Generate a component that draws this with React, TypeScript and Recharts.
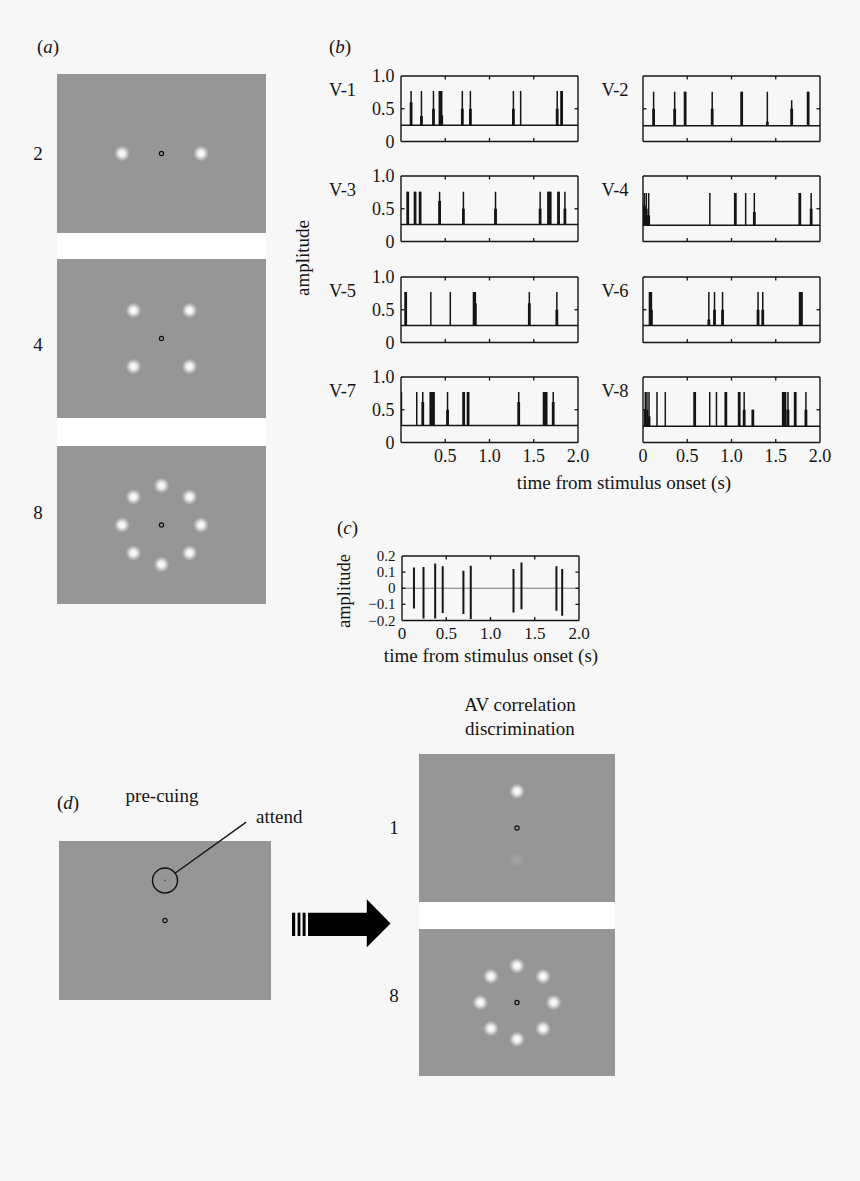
import React from 'react';
import { LineChart, Line, XAxis, YAxis, ScatterChart, Scatter, ReferenceLine, ReferenceArea } from 'recharts';

const SERIF = "'Liberation Serif', 'Times New Roman', Times, serif";
const INK = '#151515';
const PAGE = '#f7f7f7';
const STIM = '#969696';

// ---------- (b) spike trains: [time (s), peak amplitude, height of heavy lower part]
const unitLabels = ['V-1', 'V-2', 'V-3', 'V-4', 'V-5', 'V-6', 'V-7', 'V-8'];
const unitBaselines = [0.25, 0.24, 0.26, 0.25, 0.26, 0.26, 0.26, 0.25];
const V1 = [[0.114, 0.77, 0.6], [0.231, 0.77, 0.39], [0.367, 0.77, 0.5], [0.44, 0.77, 0.77], [0.46, 0.77, 0.4], [0.693, 0.77, 0.5], [0.784, 0.77, 0.5], [1.27, 0.77, 0.5], [1.352, 0.77, 0], [1.765, 0.77, 0.5], [1.815, 0.77, 0.77]];
const V2 = [[0.12, 0.76, 0.5], [0.358, 0.76, 0.5], [0.476, 0.76, 0.76], [0.782, 0.76, 0.5], [1.115, 0.76, 0.76], [1.405, 0.76, 0.3], [1.68, 0.63, 0.5], [1.866, 0.76, 0.76]];
const V3 = [[0.076, 0.76, 0.76], [0.159, 0.76, 0.76], [0.216, 0.76, 0.76], [0.436, 0.76, 0.62], [0.705, 0.76, 0.5], [1.068, 0.76, 0.5], [1.572, 0.76, 0.5], [1.667, 0.76, 0.76], [1.686, 0.76, 0.76], [1.78, 0.76, 0.76], [1.852, 0.76, 0.5]];
const V4 = [[0.015, 0.74, 0.55], [0.025, 0.5, 0.5], [0.037, 0.74, 0.5], [0.064, 0.74, 0.4], [0.755, 0.74, 0], [1.043, 0.74, 0.74], [1.16, 0.74, 0], [1.258, 0.74, 0.45], [1.772, 0.74, 0.74], [1.9, 0.74, 0.5]];
const V5 = [[0.053, 0.77, 0.77], [0.337, 0.77, 0], [0.557, 0.77, 0], [0.826, 0.77, 0.77], [0.84, 0.77, 0.6], [1.45, 0.77, 0.6], [1.761, 0.77, 0.5]];
const V6 = [[0.08, 0.77, 0.77], [0.095, 0.77, 0.5], [0.744, 0.77, 0.35], [0.808, 0.77, 0.5], [0.899, 0.77, 0.5], [1.3, 0.77, 0.5], [1.353, 0.77, 0.5], [1.776, 0.77, 0.77], [1.79, 0.77, 0.77]];
const V7 = [[0.005, 0.77, 0], [0.178, 0.77, 0], [0.246, 0.77, 0.62], [0.337, 0.77, 0.77], [0.352, 0.77, 0.77], [0.367, 0.77, 0.77], [0.526, 0.77, 0.5], [0.708, 0.77, 0.77], [0.758, 0.77, 0.77], [1.33, 0.77, 0.62], [1.617, 0.77, 0.77], [1.64, 0.77, 0.77], [1.72, 0.77, 0.62]];
const V8 = [[0.026, 0.77, 0.5], [0.045, 0.77, 0.5], [0.068, 0.77, 0.4], [0.158, 0.77, 0], [0.252, 0.77, 0], [0.584, 0.77, 0.77], [0.754, 0.77, 0], [0.83, 0.77, 0], [0.936, 0.77, 0.77], [1.087, 0.77, 0.77], [1.143, 0.77, 0.5], [1.241, 0.5, 0.5], [1.585, 0.77, 0.77], [1.604, 0.77, 0.77], [1.638, 0.77, 0.5], [1.72, 0.77, 0.77], [1.841, 0.77, 0.5]];
const units = [V1, V2, V3, V4, V5, V6, V7, V8];

const timeTicks = [0, 0.5, 1, 1.5, 2];
const timeTickLabels = ['0', '0.5', '1.0', '1.5', '2.0'];
const timeTickLabelsNoZero = ['', '0.5', '1.0', '1.5', '2.0'];
const ampTicks = [0, 0.5, 1];
const ampTickLabels = ['0', '0.5', '1.0'];

// ---------- (c) correlation trace: [time (s), top, bottom]
const corrTicks = [-0.2, -0.1, 0, 0.1, 0.2];
const corrTickLabels = ['\u22120.2', '\u22120.1', '0', '0.1', '0.2'];
const corrSpikes = [[0.135, 0.129, -0.126], [0.243, 0.132, -0.188], [0.375, 0.153, -0.188], [0.46, 0.137, -0.153], [0.694, 0.109, -0.16], [0.777, 0.14, -0.19], [1.26, 0.12, -0.15], [1.35, 0.16, -0.13], [1.745, 0.137, -0.14], [1.81, 0.12, -0.17]];

// ---------- stimulus displays (unit = stimulus ring radius)
const setSize2 = [[-1, 0], [1, 0]];
const setSize4 = [[-0.71, 0.71], [0.71, 0.71], [-0.71, -0.71], [0.71, -0.71]];
const setSize8 = [[0, 1], [-0.71, 0.71], [0.71, 0.71], [-1, 0], [1, 0], [-0.71, -0.71], [0.71, -0.71], [0, -1]];
const setSize1 = [[0, 1]];
const setSize1Faint = [[0, -0.87]];
const cueLocation = [[0, 1]];
const fixation = [[0, 0]];
const leaderLine = [[0.25, 1.18], [2.03, 2.46]];

const toXY = (a: number[][]) => a.map(([x, y]) => ({ x, y }));

// ---------- layout
const B_COL_LEFT = [401, 643];
const B_ROW_TOP = [75.5, 176, 277, 377];
const B_W = 177;
const B_H = 65.5;
const AXIS = { stroke: INK, strokeWidth: 1.4 };

type Side = 'bottom' | 'top' | 'left' | 'right';
const tickRenderer = (side: Side, ticks: number[], labels: string[] | null, fontSize = 18) => (props: any) => {
  const { x, y, payload } = props;
  const v = payload ? payload.value : 0;
  const i = ticks.findIndex((t) => Math.abs(t - v) < 1e-9);
  const edge = i === 0 || i === ticks.length - 1;
  const L = 3.5;
  let mark = null;
  if (!edge) {
    const d = side === 'bottom' ? [0, -L] : side === 'top' ? [0, L] : side === 'left' ? [L, 0] : [-L, 0];
    mark = <line x1={x} y1={y} x2={x + d[0]} y2={y + d[1]} stroke={INK} strokeWidth={1.3} />;
  }
  let label = null;
  const s = labels && i >= 0 ? labels[i] : '';
  if (s) {
    if (side === 'bottom') {
      label = (
        <text x={x} y={y + 7 + fontSize * 0.7} textAnchor="middle" fontFamily={SERIF} fontSize={fontSize} fill={INK}>
          {s}
        </text>
      );
    } else if (side === 'left') {
      label = (
        <text x={x - 6.5} y={y + fontSize / 3} textAnchor="end" fontFamily={SERIF} fontSize={fontSize} fill={INK}>
          {s}
        </text>
      );
    }
  }
  return <g>{mark}{label}</g>;
};

const axisCommon = { tickSize: 0, tickMargin: 0, tickLine: false, interval: 0 as const, axisLine: AXIS, allowDataOverflow: true };

type Pt = { t: number; v: number | null };

function BoxedChart({ left, top, width, height, yDomain, yTicks, xLabels, yLabels, xFont = 18, yFont = 18, children, boxData }: any) {
  const ML = 50, MT = 14, MR = 18, MB = 28, EDGE = 1;
  return (
    <div style={{ position: 'absolute', left: left - ML, top: top - MT - EDGE }}>
      <LineChart width={ML + width + EDGE + MR} height={MT + EDGE + height + MB} margin={{ top: MT, right: MR, bottom: 0, left: 0 }}>
        <XAxis xAxisId="b" dataKey="t" type="number" domain={[0, 2]} ticks={timeTicks} height={MB} tick={tickRenderer('bottom', timeTicks, xLabels, xFont)} {...axisCommon} />
        <XAxis xAxisId="t" orientation="top" dataKey="t" type="number" domain={[0, 2]} ticks={timeTicks} height={EDGE} tick={tickRenderer('top', timeTicks, null)} {...axisCommon} />
        <YAxis yAxisId="l" type="number" domain={yDomain} ticks={yTicks} width={ML} tick={tickRenderer('left', yTicks, yLabels, yFont)} {...axisCommon} />
        <YAxis yAxisId="r" orientation="right" type="number" domain={yDomain} ticks={yTicks} width={EDGE} tick={tickRenderer('right', yTicks, null)} {...axisCommon} />
        <Line xAxisId="t" yAxisId="r" data={boxData} dataKey="v" stroke="none" strokeWidth={0} dot={false} activeDot={false} isAnimationActive={false} />
        {children}
      </LineChart>
    </div>
  );
}

function SpikeTrain({ index }: { index: number }) {
  const col = index % 2;
  const row = Math.floor(index / 2);
  const spikes = units[index];
  const base = unitBaselines[index];
  const trace: Pt[] = [{ t: 0, v: base }];
  spikes.forEach(([t, peak]) => {
    trace.push({ t, v: base }, { t, v: peak }, { t, v: base });
  });
  trace.push({ t: 2, v: base });
  const heavy: Pt[] = [];
  spikes.forEach(([t, , thick]) => {
    if (thick > 0) heavy.push({ t, v: base }, { t, v: thick }, { t, v: null });
  });
  const xLabels = row === 3 ? (col === 0 ? timeTickLabelsNoZero : timeTickLabels) : null;
  const yLabels = col === 0 ? ampTickLabels : null;
  return (
    <BoxedChart left={B_COL_LEFT[col]} top={B_ROW_TOP[row]} width={B_W} height={B_H} yDomain={[0, 1]} yTicks={ampTicks} xLabels={xLabels} yLabels={yLabels} boxData={trace}>
      <Line xAxisId="b" yAxisId="l" data={trace} dataKey="v" type="linear" stroke={INK} strokeWidth={1.5} dot={false} activeDot={false} isAnimationActive={false} />
      <Line xAxisId="b" yAxisId="l" data={heavy} dataKey="v" type="linear" stroke={INK} strokeWidth={2.8} dot={false} activeDot={false} connectNulls={false} isAnimationActive={false} />
    </BoxedChart>
  );
}

function CorrPanel() {
  const segs: Pt[] = [];
  corrSpikes.forEach(([t, top, bot]) => {
    segs.push({ t, v: top }, { t, v: bot }, { t, v: null });
  });
  return (
    <BoxedChart left={402} top={556} width={177} height={64.5} yDomain={[-0.2, 0.2]} yTicks={corrTicks} xLabels={timeTickLabels} yLabels={corrTickLabels} xFont={17} yFont={15} boxData={segs}>
      <ReferenceLine xAxisId="b" yAxisId="l" y={0} stroke="#7a7a7a" strokeWidth={1.2} />
      <Line xAxisId="b" yAxisId="l" data={segs} dataKey="v" type="linear" stroke={INK} strokeWidth={2} dot={false} activeDot={false} connectNulls={false} isAnimationActive={false} />
    </BoxedChart>
  );
}

const blobShape = (opacity: number) => (p: any) => (
  <circle cx={p.cx} cy={p.cy} r={8} fill="url(#stimBlob)" opacity={opacity} />
);
const fixShape = (p: any) => <circle cx={p.cx} cy={p.cy} r={2.1} fill="none" stroke="#111" strokeWidth={1.2} />;
const cueShape = (p: any) => (
  <g>
    <circle cx={p.cx} cy={p.cy} r={12.5} fill="none" stroke="#111" strokeWidth={1.4} />
    <circle cx={p.cx} cy={p.cy} r={0.9} fill="#555" />
  </g>
);

function StimPanel({ left, top, w, h, ring, items, faint }: { left: number; top: number; w: number; h: number; ring: number; items: number[][]; faint?: number[][] }) {
  const xr = w / 2 / ring;
  const yr = h / 2 / ring;
  return (
    <div style={{ position: 'absolute', left, top, width: w, height: h, background: STIM }}>
      <ScatterChart width={w} height={h} margin={{ top: 0, right: 0, bottom: 0, left: 0 }}>
        <XAxis type="number" dataKey="x" domain={[-xr, xr]} hide allowDataOverflow />
        <YAxis type="number" dataKey="y" domain={[-yr, yr]} hide allowDataOverflow />
        <Scatter data={toXY(items)} shape={blobShape(1)} isAnimationActive={false} />
        {faint ? <Scatter data={toXY(faint)} shape={blobShape(0.12)} isAnimationActive={false} /> : null}
        <Scatter data={toXY(fixation)} shape={fixShape} isAnimationActive={false} />
      </ScatterChart>
    </div>
  );
}

function CuePanel() {
  // chart spans the gray panel plus the area above it holding the leader line
  const left = 59, panelTop = 841, w = 212, h = 159, chartTop = 815, ring = 40;
  const cy = panelTop + h / 2;
  const xr = w / 2 / ring;
  const yTop = (cy - chartTop) / ring;
  const yBot = h / 2 / ring;
  return (
    <div style={{ position: 'absolute', left, top: chartTop }}>
      <ScatterChart width={w} height={panelTop + h - chartTop} margin={{ top: 0, right: 0, bottom: 0, left: 0 }}>
        <XAxis type="number" dataKey="x" domain={[-xr, xr]} hide allowDataOverflow />
        <YAxis type="number" dataKey="y" domain={[-yBot, yTop]} hide allowDataOverflow />
        <ReferenceArea x1={-xr} x2={xr} y1={-yBot} y2={yBot} fill={STIM} fillOpacity={1} stroke="none" ifOverflow="extendDomain" />
        <ReferenceLine segment={leaderLine.map(([x, y]) => ({ x, y }))} stroke="#111" strokeWidth={1.3} ifOverflow="visible" />
        <Scatter data={toXY(cueLocation)} shape={cueShape} isAnimationActive={false} />
        <Scatter data={toXY(fixation)} shape={fixShape} isAnimationActive={false} />
      </ScatterChart>
    </div>
  );
}

const T = (props: any) => <text fontFamily={SERIF} fill={INK} {...props} />;

export default function App() {
  return (
    <div style={{ position: 'absolute', left: 0, top: 0, width: 860, height: 1181, background: PAGE, overflow: 'hidden' }}>
      <svg width={0} height={0} style={{ position: 'absolute' }}>
        <defs>
          <radialGradient id="stimBlob">
            <stop offset="0%" stopColor="#ffffff" stopOpacity={1} />
            <stop offset="35%" stopColor="#f6f6f6" stopOpacity={0.95} />
            <stop offset="70%" stopColor="#ffffff" stopOpacity={0.35} />
            <stop offset="100%" stopColor="#ffffff" stopOpacity={0} />
          </radialGradient>
        </defs>
      </svg>

      {/* (a) */}
      <div style={{ position: 'absolute', left: 57, top: 233, width: 209, height: 26, background: '#fff' }} />
      <div style={{ position: 'absolute', left: 57, top: 418, width: 209, height: 28, background: '#fff' }} />
      <StimPanel left={57} top={74} w={209} h={159} ring={39.5} items={setSize2} />
      <StimPanel left={57} top={259} w={209} h={159} ring={39.5} items={setSize4} />
      <StimPanel left={57} top={446} w={209} h={158} ring={39.5} items={setSize8} />

      {/* (b) */}
      {units.map((_, i) => (
        <SpikeTrain key={i} index={i} />
      ))}

      {/* (c) */}
      <CorrPanel />

      {/* (d) */}
      <CuePanel />
      <svg width={120} height={60} style={{ position: 'absolute', left: 285, top: 894 }} viewBox="285 894 120 60">
        <rect x={292} y={912.7} width={3.2} height={23.3} fill="#000" />
        <rect x={297.6} y={912.7} width={2.8} height={23.3} fill="#000" />
        <rect x={302.6} y={912.7} width={3} height={23.3} fill="#000" />
        <polygon points="308,912.7 366.8,912.7 366.8,899.3 390.5,923.6 366.8,947.3 366.8,936 308,936" fill="#000" />
      </svg>
      <div style={{ position: 'absolute', left: 419, top: 902, width: 196, height: 27, background: '#fff' }} />
      <StimPanel left={419} top={754} w={196} h={148} ring={36.7} items={setSize1} faint={setSize1Faint} />
      <StimPanel left={419} top={929} w={196} h={147} ring={36.7} items={setSize8} />

      {/* text layer */}
      <svg width={860} height={1181} style={{ position: 'absolute', left: 0, top: 0, pointerEvents: 'none' }}>
        <T x={37} y={53} fontSize={19}>(<tspan fontStyle="italic">a</tspan>)</T>
        <T x={38} y={159.5} fontSize={19} textAnchor="middle">2</T>
        <T x={38} y={351} fontSize={19} textAnchor="middle">4</T>
        <T x={38} y={518.5} fontSize={19} textAnchor="middle">8</T>

        <T x={329} y={53} fontSize={19}>(<tspan fontStyle="italic">b</tspan>)</T>
        {unitLabels.map((s, i) => (
          <T key={s} x={i % 2 === 0 ? 329 : 601.5} y={B_ROW_TOP[Math.floor(i / 2)] + 20} fontSize={18.5}>{s}</T>
        ))}
        <T x={309} y={258} fontSize={19} textAnchor="middle" transform="rotate(-90 309 258)">amplitude</T>
        <T x={624} y={489} fontSize={19} textAnchor="middle">time from stimulus onset (s)</T>

        <T x={337} y={534} fontSize={19}>(<tspan fontStyle="italic">c</tspan>)</T>
        <T x={350} y={591} fontSize={18.5} textAnchor="middle" transform="rotate(-90 350 591)">amplitude</T>
        <T x={491} y={662} fontSize={19} textAnchor="middle">time from stimulus onset (s)</T>

        <T x={57} y={809} fontSize={19}>(<tspan fontStyle="italic">d</tspan>)</T>
        <T x={162} y={802} fontSize={19} textAnchor="middle">pre-cuing</T>
        <T x={256} y={823} fontSize={19}>attend</T>
        <T x={520} y={711} fontSize={19} textAnchor="middle">AV correlation</T>
        <T x={520} y={735} fontSize={19} textAnchor="middle">discrimination</T>
        <T x={394} y={833.5} fontSize={19} textAnchor="middle">1</T>
        <T x={394} y={1001.5} fontSize={19} textAnchor="middle">8</T>
      </svg>
    </div>
  );
}
